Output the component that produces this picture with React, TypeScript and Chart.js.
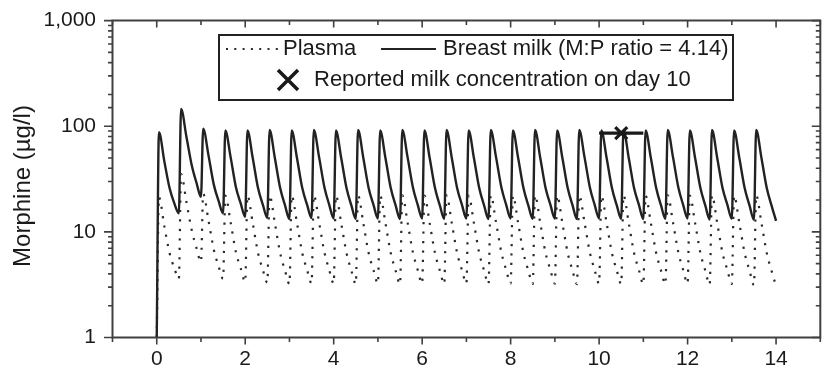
import React, { useEffect, useRef } from "react";
import { Chart, registerables } from "chart.js";

Chart.register(...registerables);

// ---- data ----
const doseTimes = [0, 0.5, 1, 1.5, 2, 2.5, 3, 3.5, 4, 4.5, 5, 5.5, 6, 6.5, 7, 7.5, 8, 8.5, 9, 9.5, 10, 10.5, 11, 11.5, 12, 12.5, 13, 13.5];
// sample times after each dose (days): peak, three points on the decay, trough at next dose
const sampleOffsets = [0.05, 0.17, 0.29, 0.4, 0.5];
const startTime = 0;
const startLevel = 1;

// Breast milk morphine (µg/l) per dosing interval
const milkByDose = [
  [88, 47, 26, 18.5, 15.0],
  [146, 80, 43, 29, 21.5],
  [95, 53, 28, 19.5, 15.0],
  [91, 51, 26.5, 18.5, 13.9],
  [91, 50, 26, 18, 13.6],
  [92, 50, 26, 17.8, 13.2],
  [91, 50, 26, 18, 13.5],
  [92, 51, 26.5, 18, 13.4],
  [91, 50, 26, 17.8, 13.3],
  [92, 50, 26, 18, 13.4],
  [91, 50, 26, 17.8, 13.2],
  [92, 51, 26.5, 18, 13.4],
  [91, 50, 26, 17.8, 13.3],
  [92, 50, 26, 18, 13.4],
  [91, 50, 26, 17.8, 13.2],
  [92, 51, 26.5, 18, 13.4],
  [91, 50, 26, 17.8, 13.3],
  [92, 50, 26, 18, 13.4],
  [91, 50, 26, 17.8, 13.2],
  [92, 51, 26.5, 18, 13.4],
  [91, 50, 26, 17.8, 13.3],
  [92, 50, 26, 18, 13.2],
  [91, 50, 26, 17.8, 13.3],
  [92, 51, 26.5, 18, 13.4],
  [91, 50, 26, 17.8, 13.1],
  [92, 50, 26, 18, 13.3],
  [91, 50, 26, 17.8, 13.0],
  [92, 50, 26, 17.6, 12.7],
];

// Plasma morphine (µg/l) per dosing interval
const plasmaByDose = [
  [21.3, 11.4, 6.3, 4.5, 3.6],
  [35.3, 19.3, 10.4, 7.0, 5.2],
  [22.9, 12.8, 6.8, 4.7, 3.6],
  [22.0, 12.3, 6.4, 4.5, 3.36],
  [22.0, 12.1, 6.3, 4.35, 3.3],
  [22.2, 12.1, 6.3, 4.3, 3.2],
  [22.0, 12.1, 6.3, 4.35, 3.26],
  [22.2, 12.3, 6.4, 4.35, 3.24],
  [22.0, 12.1, 6.3, 4.3, 3.21],
  [22.2, 12.1, 6.3, 4.35, 3.24],
  [22.0, 12.1, 6.3, 4.3, 3.2],
  [22.2, 12.3, 6.4, 4.35, 3.24],
  [22.0, 12.1, 6.3, 4.3, 3.21],
  [22.2, 12.1, 6.3, 4.35, 3.24],
  [22.0, 12.1, 6.3, 4.3, 3.2],
  [22.2, 12.3, 6.4, 4.35, 3.24],
  [22.0, 12.1, 6.3, 4.3, 3.21],
  [22.2, 12.1, 6.3, 4.35, 3.24],
  [22.0, 12.1, 6.3, 4.3, 3.2],
  [22.2, 12.3, 6.4, 4.35, 3.24],
  [22.0, 12.1, 6.3, 4.3, 3.21],
  [22.2, 12.1, 6.3, 4.35, 3.2],
  [22.0, 12.1, 6.3, 4.3, 3.21],
  [22.2, 12.3, 6.4, 4.35, 3.24],
  [22.0, 12.1, 6.3, 4.3, 3.16],
  [22.2, 12.1, 6.3, 4.35, 3.21],
  [22.0, 12.1, 6.3, 4.3, 3.14],
  [22.2, 12.1, 6.3, 4.25, 3.07],
];

// Reported milk concentration on day 10 (marker + range bar)
const reportedDay = [10.5];
const reportedValue = [86];
const reportedRangeDays = [10, 11];

const xLabelValues = [0, 2, 4, 6, 8, 10, 12, 14];
const yLabelValues = [1, 10, 100, 1000];
const yLabelTexts = ["1", "10", "100", "1,000"];

const legendLabels = ["Plasma", "Breast milk (M:P ratio = 4.14)", "Reported milk concentration on day 10"];
const yAxisTitle = "Morphine (µg/l)";

// ---- styles ----
const FONT = "'Liberation Sans', Arial, Helvetica, sans-serif";
const TEXT = "#1a1a1a";
const AXIS = "#404040";
const LINE = "#222222";
const DOT = "#2a2a2a";
const PLASMA_DASH = [2.2, 7.2];

function buildSeries(levels: number[][]) {
  const pts: { x: number; y: number }[] = [{ x: startTime, y: startLevel }];
  doseTimes.forEach((d, i) => {
    sampleOffsets.forEach((o, j) => {
      pts.push({ x: d + o, y: levels[i][j] });
    });
  });
  return pts;
}

const isPow10 = (v: number) => {
  const l = Math.log10(v);
  return Math.abs(l - Math.round(l)) < 1e-6;
};

const framePlugin = {
  id: "frameTicks",
  afterDraw(chart: any) {
    const { ctx, chartArea } = chart;
    const { left, right, top, bottom } = chartArea;
    const x = chart.scales.x;
    const y = chart.scales.y;
    ctx.save();
    ctx.strokeStyle = AXIS;
    ctx.lineWidth = 2;
    ctx.beginPath();
    ctx.rect(left, top, right - left, bottom - top);
    ctx.stroke();
    ctx.lineWidth = 1.6;
    ctx.beginPath();
    x.ticks.forEach((t: any) => {
      const px = x.getPixelForValue(t.value);
      const major = Math.abs(t.value % 2) < 1e-9;
      const len = major ? 7 : 4.5;
      ctx.moveTo(px, bottom);
      ctx.lineTo(px, bottom + len);
      ctx.moveTo(px, top);
      ctx.lineTo(px, top + len);
    });
    y.ticks.forEach((t: any) => {
      const py = y.getPixelForValue(t.value);
      const len = isPow10(t.value) ? 8.5 : 4.5;
      ctx.moveTo(left - len, py);
      ctx.lineTo(left, py);
      ctx.moveTo(right - len, py);
      ctx.lineTo(right, py);
    });
    ctx.stroke();
    ctx.restore();
  },
};

const titlePlugin = {
  id: "yTitle",
  afterDraw(chart: any) {
    const { ctx } = chart;
    ctx.save();
    ctx.translate(23, 186);
    ctx.rotate(-Math.PI / 2);
    ctx.font = `24px ${FONT}`;
    ctx.fillStyle = TEXT;
    ctx.textAlign = "center";
    ctx.textBaseline = "middle";
    ctx.fillText(yAxisTitle, 0, 0);
    ctx.restore();
  },
};

const legendPlugin = {
  id: "boxLegend",
  afterDraw(chart: any) {
    const { ctx } = chart;
    ctx.save();
    ctx.fillStyle = "#ffffff";
    ctx.fillRect(219, 35, 514, 65);
    ctx.strokeStyle = "#222";
    ctx.lineWidth = 2;
    ctx.strokeRect(219, 35, 514, 65);

    const row1 = 49;
    const row2 = 80;
    // plasma sample
    ctx.strokeStyle = DOT;
    ctx.lineWidth = 2;
    ctx.setLineDash([2, 6.3]);
    ctx.beginPath();
    ctx.moveTo(226, row1);
    ctx.lineTo(279, row1);
    ctx.stroke();
    ctx.setLineDash([]);
    // milk sample
    ctx.strokeStyle = LINE;
    ctx.lineWidth = 2;
    ctx.beginPath();
    ctx.moveTo(381, row1);
    ctx.lineTo(436, row1);
    ctx.stroke();
    // cross
    ctx.lineWidth = 3.5;
    ctx.strokeStyle = "#1a1a1a";
    ctx.beginPath();
    ctx.moveTo(278, row2 - 10);
    ctx.lineTo(298, row2 + 10);
    ctx.moveTo(298, row2 - 10);
    ctx.lineTo(278, row2 + 10);
    ctx.stroke();

    ctx.font = `22px ${FONT}`;
    ctx.fillStyle = TEXT;
    ctx.textBaseline = "middle";
    ctx.textAlign = "left";
    ctx.fillText(legendLabels[0], 283, row1);
    ctx.fillText(legendLabels[1], 443, row1);
    ctx.fillText(legendLabels[2], 314, row2);
    ctx.restore();
  },
};

export default function App() {
  const ref = useRef<HTMLCanvasElement | null>(null);

  useEffect(() => {
    document.body.style.margin = "0";
    const canvas = ref.current;
    if (!canvas) return;
    const chart = new Chart(canvas, {
      type: "line",
      data: {
        datasets: [
          {
            label: "Reported",
            data: reportedDay.map((d, i) => ({ x: d, y: reportedValue[i] })),
            showLine: false,
            pointStyle: "crossRot",
            pointRadius: 8.5,
            pointBorderWidth: 3.2,
            pointBorderColor: "#1a1a1a",
            borderColor: "#1a1a1a",
          },
          {
            label: "Reported range",
            data: reportedRangeDays.map((d) => ({ x: d, y: reportedValue[0] })),
            borderColor: "#1a1a1a",
            borderWidth: 3.4,
            pointRadius: 0,
          },
          {
            label: legendLabels[1],
            data: buildSeries(milkByDose),
            borderColor: LINE,
            borderWidth: 2.4,
            pointRadius: 0,
            cubicInterpolationMode: "monotone",
          },
          {
            label: legendLabels[0],
            data: buildSeries(plasmaByDose),
            borderColor: DOT,
            borderWidth: 2.2,
            borderDash: PLASMA_DASH,
            pointRadius: 0,
            cubicInterpolationMode: "monotone",
          },
        ],
      },
      options: {
        animation: false,
        responsive: false,
        devicePixelRatio: 1,
        layout: { padding: { top: 15, right: 4, left: 0, bottom: 0 } },
        plugins: { legend: { display: false }, tooltip: { enabled: false } },
        scales: {
          x: {
            type: "linear",
            min: -1,
            max: 15,
            afterFit(scale: any) {
              scale.height = 35.5;
            },
            grid: { drawOnChartArea: false, drawTicks: true, tickLength: 7, tickColor: "transparent" },
            border: { display: false },
            ticks: {
              stepSize: 1,
              autoSkip: false,
              maxRotation: 0,
              padding: 2,
              color: TEXT,
              font: { family: FONT, size: 21 },
              callback: (v: any) => (xLabelValues.includes(Number(v)) ? String(v) : ""),
            },
          },
          y: {
            type: "logarithmic",
            min: 1,
            max: 1000,
            afterFit(scale: any) {
              scale.width = 112.5;
            },
            grid: { drawOnChartArea: false, drawTicks: true, tickLength: 8.5, tickColor: "transparent" },
            border: { display: false },
            ticks: {
              autoSkip: false,
              padding: 8,
              color: TEXT,
              font: { family: FONT, size: 21 },
              callback: (v: any) => {
                const i = yLabelValues.findIndex((t) => Math.abs(t - Number(v)) / t < 1e-6);
                return i >= 0 ? yLabelTexts[i] : "";
              },
            },
          },
        },
      },
      plugins: [framePlugin, titlePlugin, legendPlugin],
    });
    return () => chart.destroy();
  }, []);

  return (
    <div style={{ width: 825, height: 373, overflow: "hidden", background: "#fff" }}>
      <canvas ref={ref} width={832} height={373} style={{ width: 832, height: 373, display: "block" }} />
    </div>
  );
}
